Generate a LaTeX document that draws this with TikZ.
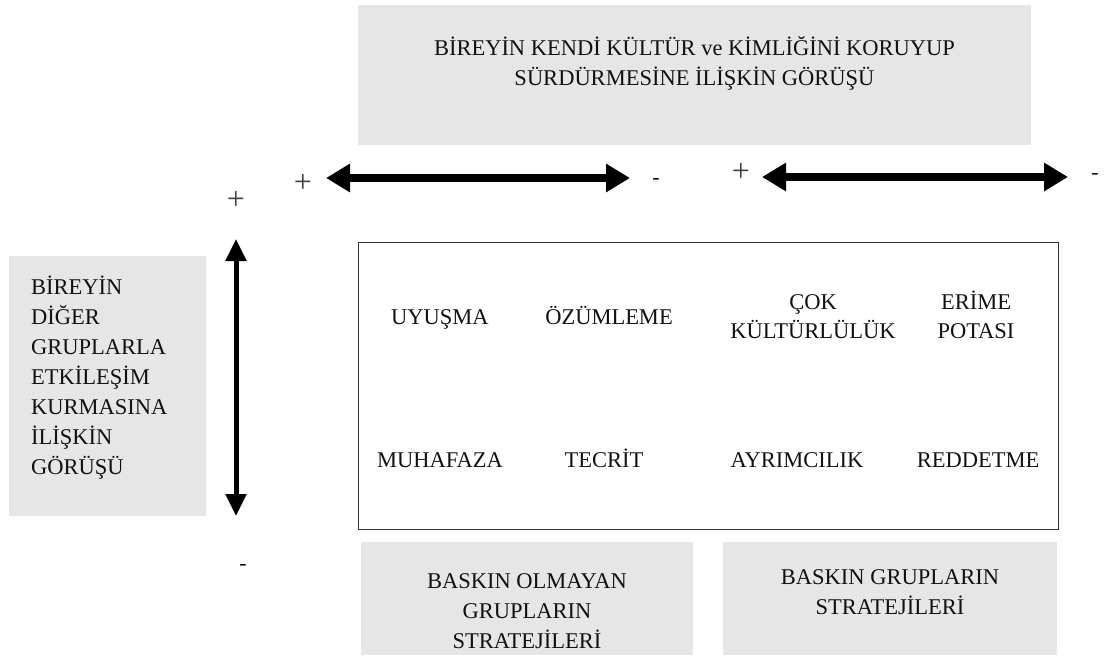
\documentclass[tikz,border=0pt]{standalone}
\usepackage{fontspec}
\setmainfont{Liberation Serif}
\usetikzlibrary{arrows.meta}
\definecolor{boxgray}{HTML}{E6E6E6}
\definecolor{txt}{HTML}{111111}
\begin{document}
\begin{tikzpicture}[x=1pt,y=-1pt,
  lbl/.style={inner sep=0pt, anchor=base, font=\fontsize{22.5}{30}\selectfont, text=txt},
  lbll/.style={lbl, anchor=base west},
  sgn/.style={inner sep=0pt, anchor=center, font=\fontsize{22}{26}\selectfont, text=txt},
  plus/.style={sgn, font=\fontsize{32}{36}\selectfont, text=black!75},
  graybox/.style={fill=boxgray, draw=none},
  bigarrow/.style={line width=7.5pt, {Triangle[length=24pt,width=27pt]}-{Triangle[length=24pt,width=27pt]}},
  vertarrow/.style={line width=5pt, {Triangle[length=22pt,width=20pt]}-{Triangle[length=22pt,width=20pt]}}
]
\useasboundingbox (0,0) rectangle (1106,656);
% gray boxes
\fill[graybox] (358,5) rectangle (1031,145);
\fill[graybox] (9,256) rectangle (206,516);
\fill[graybox] (361,542) rectangle (693,655);
\fill[graybox] (723,542) rectangle (1057,655);
% main rectangle
\draw[line width=1pt, draw=black!80] (358,242) rectangle (1058,529);

% top box text
\node[lbl] (t1) at (694.5,55.5) {BİREYİN KENDİ KÜLTÜR ve KİMLİĞİNİ KORUYUP};
\node[lbl] (t2) at (694.5,85.5) {SÜRDÜRMESİNE İLİŞKİN GÖRÜŞÜ};

% left box text
\node[lbll] (l1) at (31,294.5) {BİREYİN};
\node[lbll] (l2) at (31,324.5) {DİĞER};
\node[lbll] (l3) at (31,354.5) {GRUPLARLA};
\node[lbll] (l4) at (31,384.5) {ETKİLEŞİM};
\node[lbll] (l5) at (31,414.5) {KURMASINA};
\node[lbll] (l6) at (31,444.5) {İLİŞKİN};
\node[lbll] (l7) at (31,474.5) {GÖRÜŞÜ};

% row 1
\node[lbl] (uy) at (440,324.5) {UYUŞMA};
\node[lbl] (oz) at (609,324.5) {ÖZÜMLEME};
\node[lbl] (ck1) at (813,309.5) {ÇOK};
\node[lbl] (ck2) at (813,338.5) {KÜLTÜRLÜLÜK};
\node[lbl] (er1) at (976,309.5) {ERİME};
\node[lbl] (er2) at (976,338.5) {POTASI};

% row 2
\node[lbl] (mu) at (440,467.5) {MUHAFAZA};
\node[lbl] (te) at (604,467.5) {TECRİT};
\node[lbl] (ay) at (797,467.5) {AYRIMCILIK};
\node[lbl] (re) at (978,467.5) {REDDETME};

% bottom boxes
\node[lbl] (b1) at (527,588) {BASKIN OLMAYAN};
\node[lbl] (b2) at (527,618.5) {GRUPLARIN};
\node[lbl] (b3) at (527,648) {STRATEJİLERİ};
\node[lbl] (c1) at (890,584) {BASKIN GRUPLARIN};
\node[lbl] (c2) at (890,614) {STRATEJİLERİ};

% signs
\node[plus] (p1) at (303,183) {+};
\node[sgn] (m1) at (656,181) {-};
\node[plus] (p2) at (741,172) {+};
\node[sgn] (m2) at (1095,176) {-};
\node[plus] (p3) at (236,200) {+};
\node[sgn] (m3) at (243,567) {-};

% arrows
\coordinate (a1l) at (326,178);
\coordinate (a1r) at (630,178);
\coordinate (a2l) at (762,177);
\coordinate (a2r) at (1068,177);
\coordinate (a3t) at (236,239);
\coordinate (a3b) at (236,516);
\draw[bigarrow] (a1l) -- (a1r);
\draw[bigarrow] (a2l) -- (a2r);
\draw[vertarrow] (a3t) -- (a3b);
\end{tikzpicture}
\end{document}
